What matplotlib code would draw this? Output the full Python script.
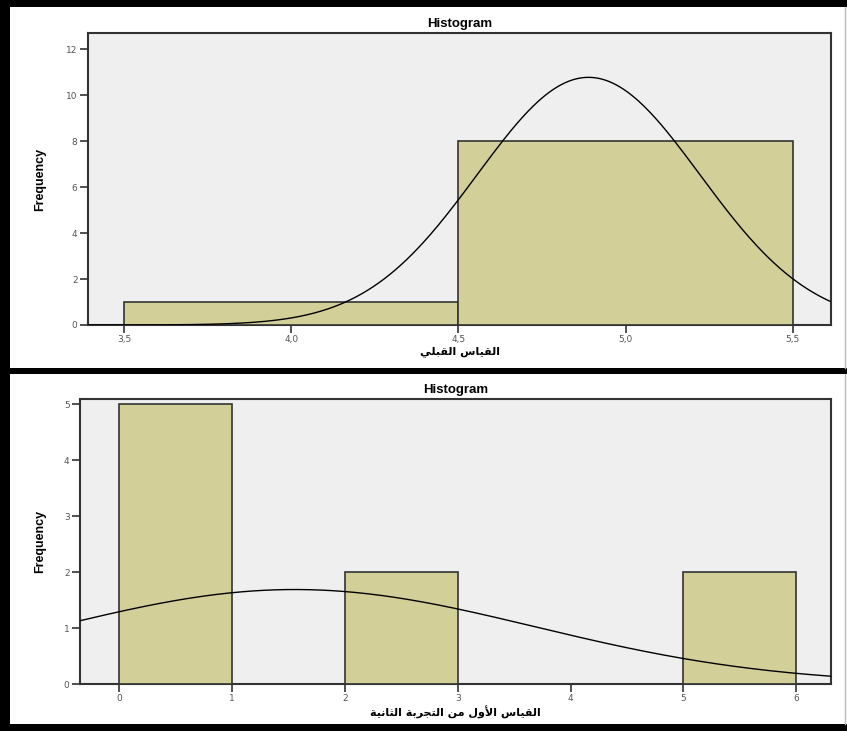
import numpy as np
import matplotlib.pyplot as plt
from matplotlib.patches import Rectangle

# --- data ---
pre_values = [4.0, 5.0, 5.0, 5.0, 5.0, 5.0, 5.0, 5.0, 5.0]
pre_bins = [3.5, 4.5, 5.5]
pre_ticks = [3.5, 4.0, 4.5, 5.0, 5.5]
pre_yticks = [0, 2, 4, 6, 8, 10, 12]
pre_label = "القياس القبلي"

post_values = [0, 0, 0, 0, 0, 2, 2, 5, 5]
post_bins = [0, 1, 2, 3, 4, 5, 6]
post_ticks = [0, 1, 2, 3, 4, 5, 6]
post_yticks = [0, 1, 2, 3, 4, 5]
post_label = "القياس الأول من التجربة الثانية"

# --- minimal arabic shaping (matplotlib has no bidi / joining) ---
FORMS = {  # isolated, final, initial, medial
    'ا': ('\uFE8D', '\uFE8E', None, None),
    'أ': ('\uFE83', '\uFE84', None, None),
    'ب': ('\uFE8F', '\uFE90', '\uFE91', '\uFE92'),
    'ة': ('\uFE93', '\uFE94', None, None),
    'ت': ('\uFE95', '\uFE96', '\uFE97', '\uFE98'),
    'ث': ('\uFE99', '\uFE9A', '\uFE9B', '\uFE9C'),
    'ج': ('\uFE9D', '\uFE9E', '\uFE9F', '\uFEA0'),
    'ر': ('\uFEAD', '\uFEAE', None, None),
    'س': ('\uFEB1', '\uFEB2', '\uFEB3', '\uFEB4'),
    'ق': ('\uFED5', '\uFED6', '\uFED7', '\uFED8'),
    'ل': ('\uFEDD', '\uFEDE', '\uFEDF', '\uFEE0'),
    'م': ('\uFEE1', '\uFEE2', '\uFEE3', '\uFEE4'),
    'ن': ('\uFEE5', '\uFEE6', '\uFEE7', '\uFEE8'),
    'و': ('\uFEED', '\uFEEE', None, None),
    'ي': ('\uFEF1', '\uFEF2', '\uFEF3', '\uFEF4'),
}
LAM_ALEF = {'ا': ('\uFEFB', '\uFEFC'), 'أ': ('\uFEF7', '\uFEF8')}


def shape_word(word):
    # merge lam + alef into ligature tokens
    toks = []
    i = 0
    while i < len(word):
        if word[i] == 'ل' and i + 1 < len(word) and word[i + 1] in LAM_ALEF:
            toks.append(('LA', word[i + 1]))
            i += 2
        else:
            toks.append(('C', word[i]))
            i += 1

    def joins_left(t):  # can connect to the following letter
        return t[0] == 'C' and FORMS[t[1]][2] is not None

    out = []
    for k, t in enumerate(toks):
        prev_join = k > 0 and joins_left(toks[k - 1])
        if t[0] == 'LA':
            out.append(LAM_ALEF[t[1]][1 if prev_join else 0])
            continue
        f = FORMS[t[1]]
        nxt = joins_left(t) and k + 1 < len(toks)
        if prev_join and nxt:
            out.append(f[3])
        elif prev_join:
            out.append(f[1])
        elif nxt:
            out.append(f[2])
        else:
            out.append(f[0])
    return ''.join(out)


def arabic(text):
    words = [shape_word(w)[::-1] for w in text.split(' ')]
    return ' '.join(words[::-1])


BAR = '#d3cf98'
BG = '#efefef'
EDGE = '#333333'
TICKC = '#555555'

fig = plt.figure(figsize=(8.47, 7.31), dpi=100)
fig.patch.set_facecolor('black')
W, H = 847, 731


def fig_rect(x0, y0, x1, y1, **kw):
    fig.patches.append(Rectangle((x0 / W, 1 - y1 / H), (x1 - x0) / W, (y1 - y0) / H,
                                 transform=fig.transFigure, zorder=-10, **kw))


# white panels on the black frame
fig_rect(10, 7, 847, 368, facecolor='white', edgecolor='none')
fig_rect(10, 374, 847, 724, facecolor='white', edgecolor='none')
for y0, y1 in [(7, 368), (374, 724)]:
    fig.add_artist(plt.Line2D([845 / W, 845 / W], [1 - y1 / H, 1 - y0 / H],
                              color='#bbbbbb', lw=1, zorder=-5))


def normal_curve(ax, values, binw, xlim):
    v = np.asarray(values, float)
    mu, sd = v.mean(), v.std(ddof=1)
    x = np.linspace(xlim[0], xlim[1], 400)
    y = len(v) * binw * np.exp(-0.5 * ((x - mu) / sd) ** 2) / (sd * np.sqrt(2 * np.pi))
    ax.plot(x, y, color='black', lw=1.0, zorder=4)


def histogram_panel(px, values, bins, xticks, yticks, xlim, ylim, xlabel, fmt):
    # px = (left, top, right, bottom) in pixels, plus y of label centres
    left, top, right, bottom, ylab_x, xlab_y = px
    ax = fig.add_axes([left / W, 1 - bottom / H, (right - left) / W, (bottom - top) / H])
    ax.set_facecolor(BG)
    ax.hist(values, bins=bins, color=BAR, edgecolor=EDGE, linewidth=1.2, zorder=3)
    normal_curve(ax, values, bins[1] - bins[0], xlim)
    ax.set_xlim(*xlim)
    ax.set_ylim(*ylim)
    ax.set_xticks(xticks)
    ax.set_xticklabels([fmt(t) for t in xticks])
    ax.set_yticks(yticks)
    for s in ax.spines.values():
        s.set_color(EDGE)
        s.set_linewidth(1.5)
    ax.tick_params(length=6, width=1.2, color=EDGE, labelsize=6.5, labelcolor=TICKC, pad=1.5)
    ax.set_title('Histogram', fontsize=9.5, fontweight='bold', family='Liberation Sans', pad=4)
    ax.set_ylabel('Frequency', fontsize=9, fontweight='bold', family='Liberation Sans', va='center')
    ax.yaxis.set_label_coords((ylab_x - left) / (right - left), 0.5)
    ax.set_xlabel(arabic(xlabel), fontsize=8, fontweight='bold', family='DejaVu Sans', va='center')
    ax.xaxis.set_label_coords(0.5, (bottom - xlab_y) / (bottom - top))
    return ax


histogram_panel((88, 33, 831, 325, 40, 352),
                pre_values, pre_bins, pre_ticks, pre_yticks, (3.392, 5.614), (0, 12.7),
                pre_label, lambda t: f'{t:.1f}'.replace('.', ','))

histogram_panel((80, 399, 831, 684, 40, 712),
                post_values, post_bins, post_ticks, post_yticks, (-0.35, 6.31), (0, 5.09),
                post_label, lambda t: f'{t:d}')

fig.savefig('out.png', dpi=100, facecolor=fig.get_facecolor())
